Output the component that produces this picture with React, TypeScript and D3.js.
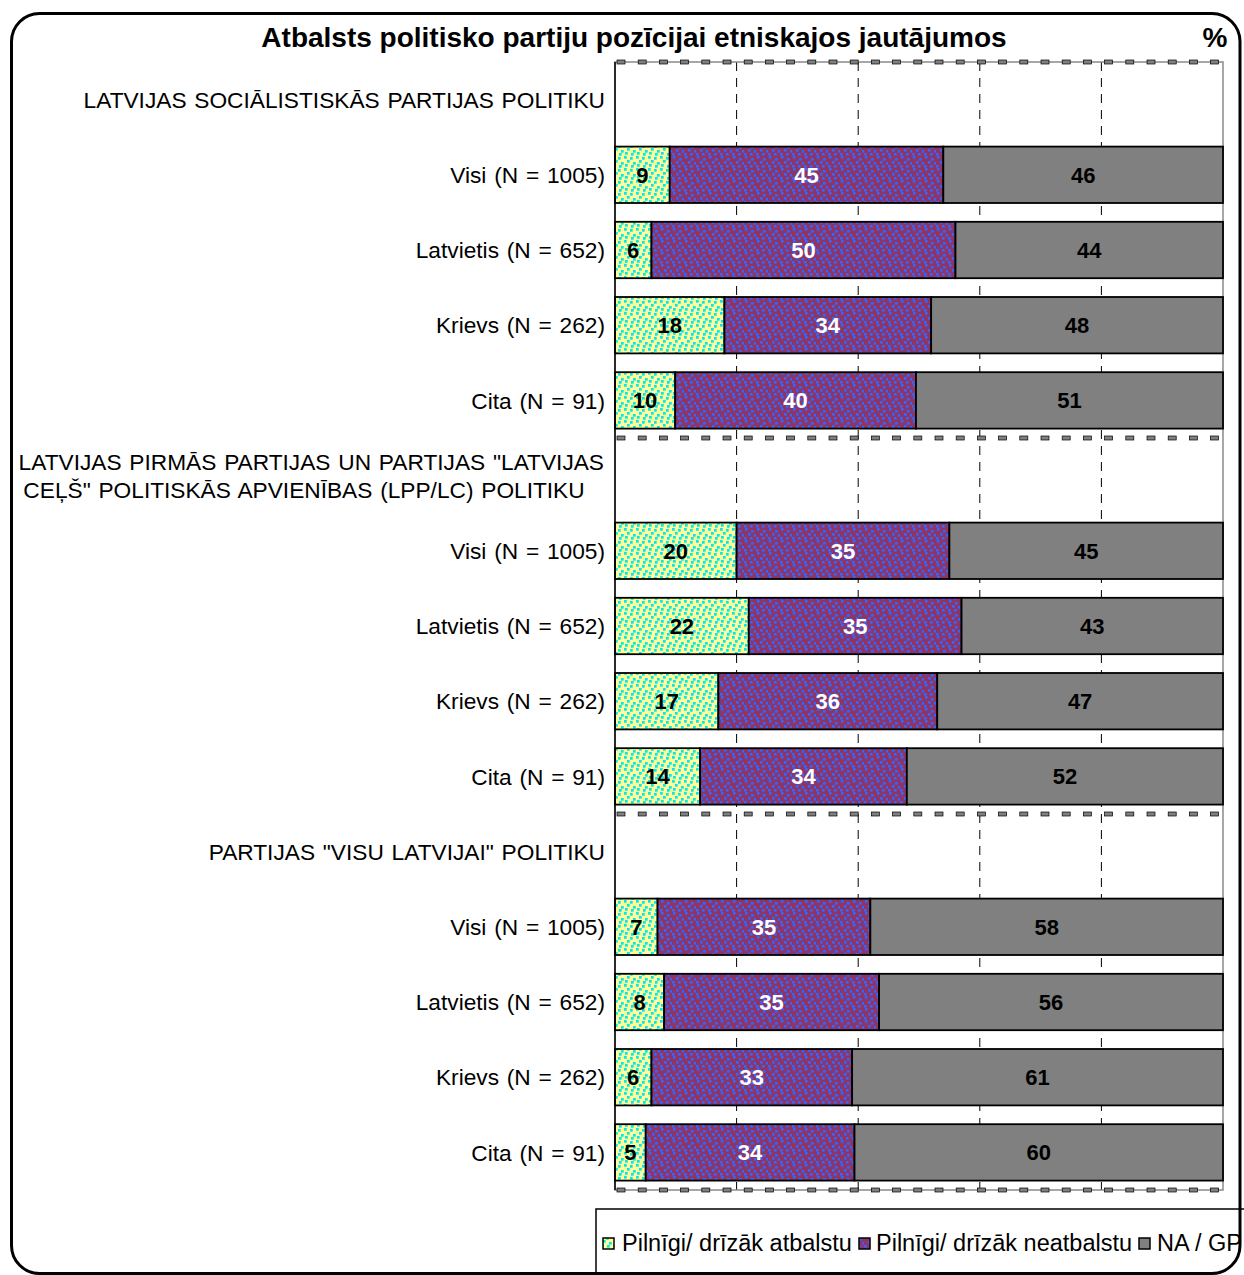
import * as d3 from "d3";

// categories
const groupTitles: string[][] = [
    ["LATVIJAS SOCIĀLISTISKĀS PARTIJAS POLITIKU"],
    ['LATVIJAS PIRMĀS PARTIJAS UN PARTIJAS "LATVIJAS', 'CEĻŠ" POLITISKĀS APVIENĪBAS (LPP/LC) POLITIKU'],
    ['PARTIJAS "VISU LATVIJAI" POLITIKU'],
];
const subgroups = ["Visi (N = 1005)", "Latvietis (N = 652)", "Krievs (N = 262)", "Cita (N = 91)"];

// series values, group by group, subgroup order as above
const support = [9, 6, 18, 10, 20, 22, 17, 14, 7, 8, 6, 5];
const oppose = [45, 50, 34, 40, 35, 35, 36, 34, 35, 35, 33, 34];
const noAnswer = [46, 44, 48, 51, 45, 43, 47, 52, 58, 56, 61, 60];

const seriesNames = ["Pilnīgi/ drīzāk atbalstu", "Pilnīgi/ drīzāk neatbalstu", "NA / GP"];
const xTicks = [0, 20, 40, 60, 80, 100];

const FONT = "'Liberation Sans', Arial, sans-serif";

function App() {
    const W = 1244, H = 1275;
    const plot = { left: 615, right: 1223, top: 62, bottom: 1190 };

    // one row per header + subgroups
    const rows: { key: string; header: number | null; idx: number | null }[] = [];
    groupTitles.forEach((_, g) => {
        rows.push({ key: `h${g}`, header: g, idx: null });
        subgroups.forEach((_, s) => rows.push({ key: `r${g}-${s}`, header: null, idx: g * subgroups.length + s }));
    });

    const x = d3.scaleLinear().domain([0, 100]).range([plot.left, plot.right]);
    const y = d3.scaleBand<string>().domain(rows.map((r) => r.key))
        .range([plot.top, plot.bottom]).paddingInner(0.25).paddingOuter(0.125);
    const step = y.step();

    const keys = ["support", "oppose", "noAnswer"];
    const table = support.map((v, i) => ({ i, support: v, oppose: oppose[i], noAnswer: noAnswer[i] }));
    // rounded percentages don't always add to 100, so each bar is normalised to full width
    const stack = d3.stack<any>().keys(keys).offset(d3.stackOffsetExpand)(table);
    const fills = ["url(#pSupport)", "url(#pOppose)", "#808080"];
    const labelColors = ["#000", "#fff", "#000"];

    const rowKey = (i: number) => `r${Math.floor(i / subgroups.length)}-${i % subgroups.length}`;
    const separators = d3.range(groupTitles.length + 1).map((g) => plot.top + g * (subgroups.length + 1) * step);

    const legendItems = [
        { sx: 603, tx: 622 },
        { sx: 859, tx: 876 },
        { sx: 1139, tx: 1157 },
    ];

    const catFont = { fontSize: 22.7, wordSpacing: 1.5 };

    return (
        <svg width={W} height={H} style={{ position: "absolute", left: 0, top: 0, background: "#ffffff" }} fontFamily={FONT}>
            <defs>
                <pattern id="pSupport" width={12} height={12} patternUnits="userSpaceOnUse">
                    <rect width={12} height={12} fill="#FFFF99" />
                    {[[0, 0], [6, 1], [3, 4], [9, 6], [1, 8], [7, 9]].map(([a, b], k) => (
                        <rect key={k} x={a} y={b} width={2.7} height={2.7} fill="#00E8F0" />
                    ))}
                </pattern>
                <pattern id="pOppose" width={12} height={12} patternUnits="userSpaceOnUse">
                    <rect width={12} height={12} fill="#8C3568" />
                    {[[1, 0], [7, 2], [4, 5], [10, 6], [0, 9], [6, 9]].map(([a, b], k) => (
                        <rect key={k} x={a} y={b} width={2.6} height={2.6} fill="#3366FF" />
                    ))}
                </pattern>
            </defs>

            {/* Title */}
            <text x={634} y={47} textAnchor="middle" fontSize={28} fontWeight="bold">Atbalsts politisko partiju pozīcijai etniskajos jautājumos</text>
            <text x={1215} y={47} textAnchor="middle" fontSize={28} fontWeight="bold">%</text>

            {/* grid */}
            {xTicks.slice(1, -1).map((t) => (
                <line key={t} x1={x(t)} x2={x(t)} y1={plot.top} y2={plot.bottom} stroke="#000" strokeWidth={1} strokeDasharray="9,7" />
            ))}
            <rect x={plot.left} y={plot.top} width={plot.right - plot.left} height={plot.bottom - plot.top} fill="none" stroke="#8a8a8a" strokeWidth={1.5} />

            {/* bars */}
            {stack.map((layer, si) => layer.map((d) => (
                <rect key={`${si}-${d.data.i}`} x={x(d[0] * 100)} y={y(rowKey(d.data.i))!} width={x(d[1] * 100) - x(d[0] * 100)} height={y.bandwidth()}
                    fill={fills[si]} stroke="#000" strokeWidth={1.8} />
            )))}
            {stack.map((layer, si) => layer.map((d) => (
                <text key={`l${si}-${d.data.i}`} x={(x(d[0] * 100) + x(d[1] * 100)) / 2} y={y(rowKey(d.data.i))! + y.bandwidth() / 2}
                    dy="0.36em" textAnchor="middle" fontSize={22} fontWeight="bold" fill={labelColors[si]}>{d.data[keys[si]]}</text>
            )))}

            {/* separators */}
            {separators.map((sy, g) => (
                <g key={g}>
                    {d3.range(plot.left + 2, plot.right - 4, 21.2).map((sx) => (
                        <rect key={sx} x={sx} y={sy - 2} width={8} height={4} fill="#808080" stroke="#000" strokeWidth={0.7} />
                    ))}
                </g>
            ))}

            {/* y axis */}
            <line x1={plot.left} x2={plot.left} y1={plot.top} y2={plot.bottom} stroke="#000" strokeWidth={1.5} />

            {/* category labels */}
            {rows.map((r) => {
                const cy = y(r.key)! + y.bandwidth() / 2;
                if (r.header !== null) {
                    const lines = groupTitles[r.header];
                    if (lines.length === 1) {
                        return <text key={r.key} x={605} y={cy} dy="0.36em" textAnchor="end" {...catFont}>{lines[0]}</text>;
                    }
                    return (
                        <g key={r.key}>
                            <text x={604} y={cy - 14} dy="0.36em" textAnchor="end" {...catFont}>{lines[0]}</text>
                            <text x={304} y={cy + 14} dy="0.36em" textAnchor="middle" {...catFont}>{lines[1]}</text>
                        </g>
                    );
                }
                return <text key={r.key} x={605} y={cy} dy="0.36em" textAnchor="end" {...catFont}>{subgroups[r.idx! % subgroups.length]}</text>;
            })}

            {/* legend */}
            <rect x={596} y={1209} width={700} height={120} fill="#fff" stroke="#000" strokeWidth={1.5} />
            {seriesNames.map((name, k) => (
                <g key={name}>
                    <rect x={legendItems[k].sx} y={1238} width={11} height={11} fill={fills[k]} stroke="#000" strokeWidth={1.5} />
                    <text x={legendItems[k].tx} y={1243} dy="0.36em" fontSize={23.5}>{name}</text>
                </g>
            ))}

            {/* outer frame */}
            <rect x={11.5} y={13.5} width={1228.5} height={1260} rx={28} ry={28} fill="none" stroke="#000" strokeWidth={3} />
        </svg>
    );
}

export default App;
